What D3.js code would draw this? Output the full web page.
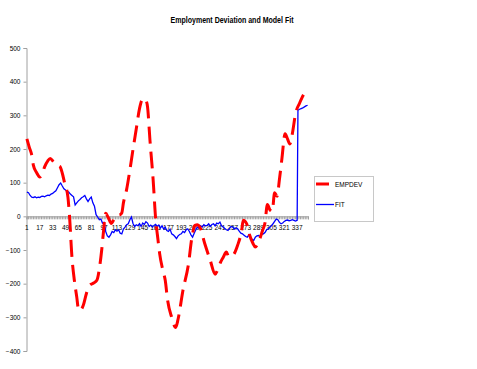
<!DOCTYPE html>
<html>
<head>
<meta charset="utf-8">
<script src="https://cdn.jsdelivr.net/npm/d3@7"></script>
<style>
  body { margin: 0; background: #fff; }
  text { font-family: "Liberation Sans", Arial, sans-serif; fill: #000; }
</style>
</head>
<body>
<script>
// category labels on the x axis (every 16th period)
var xTickCats = [1, 17, 33, 49, 65, 81, 97, 113, 129, 145, 161, 177, 193, 209, 225, 241, 257, 273, 289, 305, 321, 337]
var yTicks = [-400, -300, -200, -100, 0, 100, 200, 300, 400, 500]
var nCats = 350

// EMPDEV, [period, value]
var empdev = [[1,230],[4,205],[7,182],[9,152],[13,130],[17,117],[20,125],[23,147],[27,165],[30,172],
  [34,162],[38,152],[42,148],[45,128],[48,98],[52,57],[54,0],[57,-121],[60,-190],[63,-240],
  [65,-275],[67,-280],[71,-265],[75,-229],[79,-205],[84,-198],[88,-190],[92,-140],[94,-100],[96,-51],
  [99,9],[102,-3],[106,-21],[109,-10],[113,3],[117,5],[119,10],[121,40],[125,80],[129,137],
  [133,200],[137,260],[141,320],[144,345],[147,350],[149,345],[151,325],[154,226],[158,107],[161,-5],
  [164,-70],[166,-110],[170,-160],[173,-190],[176,-250],[181,-300],[186,-330],[189,-305],[195,-220],[202,-140],
  [206,-65],[210,-27],[213,-25],[216,-32],[222,-80],[229,-131],[235,-172],[238,-160],[242,-135],[245,-122],
  [249,-106],[252,-120],[257,-116],[263,-86],[268,-42],[270,-12],[274,-21],[278,-56],[282,-80],[285,-91],
  [288,-82],[294,-42],[297,-20],[300,35],[303,20],[306,15],[309,70],[312,60],[315,110],[318,170],
  [322,245],[325,230],[328,215],[331,245],[335,305],[340,336],[345,362],[350,375]]

// FIT, [period, value]
var fit = [[1,72],[3,70],[5,62],[7,57],[9,56],[11,58],[13,55],[15,57],[17,56],[19,59],[21,60],[23,58],
  [25,61],[27,63],[29,62],[31,66],[33,68],[35,72],[37,76],[39,85],[41,94],[43,99],[45,90],[47,82],
  [49,78],[51,74],[53,72],[55,66],[57,62],[59,58],[61,34],[63,40],[65,46],[67,50],[69,55],[71,58],
  [73,62],[75,52],[77,44],[79,52],[81,57],[83,40],[85,30],[87,5],[89,-2],[91,-10],[93,-8],[95,-20],
  [97,-18],[99,-45],[101,-58],[103,-62],[105,-55],[107,-45],[109,-48],[111,-40],[113,-44],[115,-40],
  [117,-50],[119,-52],[121,-38],[123,-32],[125,-25],[127,-22],[129,-10],[131,-2],[133,-22],[135,-30],
  [137,-25],[139,-28],[141,-22],[143,-30],[145,-20],[147,-24],[149,-16],[151,-20],[153,-30],[155,-26],
  [157,-32],[159,-27],[161,-24],[163,-30],[165,-26],[167,-35],[169,-28],[171,-38],[173,-32],[175,-42],
  [177,-45],[179,-38],[181,-52],[183,-55],[185,-60],[187,-66],[189,-58],[191,-54],[193,-52],[195,-45],
  [197,-48],[199,-40],[201,-37],[203,-45],[205,-55],[207,-62],[209,-50],[211,-40],[213,-32],[215,-35],
  [217,-28],[219,-32],[221,-25],[223,-28],[225,-27],[227,-22],[229,-30],[231,-24],[233,-22],[235,-28],
  [237,-20],[239,-22],[241,-17],[243,-28],[245,-32],[247,-36],[249,-40],[251,-42],[253,-36],[255,-30],
  [257,-32],[259,-38],[261,-34],[263,-37],[265,-44],[267,-50],[269,-52],[271,-56],[273,-60],[275,-62],
  [277,-55],[279,-65],[281,-68],[283,-72],[285,-62],[287,-58],[289,-57],[291,-60],[293,-54],[295,-52],
  [297,-48],[299,-40],[301,-37],[303,-32],[305,-28],[307,-22],[309,-15],[311,-8],[313,-10],[315,-18],
  [317,-22],[319,-20],[321,-15],[323,-12],[325,-11],[327,-13],[329,-12],[331,-10],[333,-12],[335,-14],
  [337,-12],[338,315],[340,318],[342,320],[344,322],[346,325],[348,328],[350,330]]

var svg = d3.select("body").append("svg")
            .attr("width", 477)
            .attr("height", 369)

var x = d3.scaleLinear().domain([0.5, nCats + 0.5]).range([26.5, 308])
var y = d3.scaleLinear().domain([-400, 500]).range([351, 48])

svg.append("text")
   .attr("x", 232)
   .attr("y", 23)
   .attr("text-anchor", "middle")
   .attr("font-size", 8.5)
   .attr("font-weight", "bold")
   .attr("textLength", 123)
   .attr("lengthAdjust", "spacingAndGlyphs")
   .text("Employment Deviation and Model Fit")

// y axis
var yAxis = svg.append("g")
   .attr("transform", "translate(26.5,0)")
   .call(d3.axisLeft(y).tickValues(yTicks).tickSize(3).tickPadding(3))
yAxis.selectAll("path, line").attr("stroke", "#a0a0a0")
yAxis.selectAll("text").attr("font-size", 6.5).attr("font-family", "Liberation Sans, Arial, sans-serif")

// x axis at zero, a tick mark for every other period
var xAxis = svg.append("g")
   .attr("transform", "translate(0," + y(0) + ")")
   .call(d3.axisBottom(x).tickValues(d3.range(0.5, nCats + 1, 2)).tickSize(3).tickFormat(""))
xAxis.selectAll("path, line").attr("stroke", "#a0a0a0")

svg.append("g").selectAll("text")
   .data(xTickCats)
   .enter()
   .append("text")
   .attr("x", function(d) {return x(d)})
   .attr("y", y(0) + 14)
   .attr("text-anchor", "middle")
   .attr("font-size", 6.5)
   .text(function(d) {return d})

var line = d3.line()
   .x(function(d) {return x(d[0])})
   .y(function(d) {return y(d[1])})

svg.append("path")
   .datum(fit)
   .attr("d", line)
   .attr("fill", "none")
   .attr("stroke", "#0000ff")
   .attr("stroke-width", 1.3)

svg.append("path")
   .datum(empdev)
   .attr("d", line.curve(d3.curveMonotoneX))
   .attr("fill", "none")
   .attr("stroke", "#ff0000")
   .attr("stroke-width", 3)
   .attr("stroke-dasharray", "17,8")

// legend
var legend = svg.append("g")
legend.append("rect")
      .attr("x", 314.5).attr("y", 176.5)
      .attr("width", 59).attr("height", 45)
      .attr("fill", "#fff")
      .attr("stroke", "#c8c8c8")
      .attr("stroke-width", 1)
legend.append("line")
      .attr("x1", 316).attr("x2", 329).attr("y1", 184).attr("y2", 184)
      .attr("stroke", "#ff0000").attr("stroke-width", 3)
legend.append("line")
      .attr("x1", 316).attr("x2", 334).attr("y1", 204.5).attr("y2", 204.5)
      .attr("stroke", "#0000ff").attr("stroke-width", 1.3)
legend.append("text").attr("x", 335).attr("y", 186.5).attr("font-size", 6.5).text("EMPDEV")
legend.append("text").attr("x", 335).attr("y", 207).attr("font-size", 6.5).text("FIT")
</script>
</body>
</html>
